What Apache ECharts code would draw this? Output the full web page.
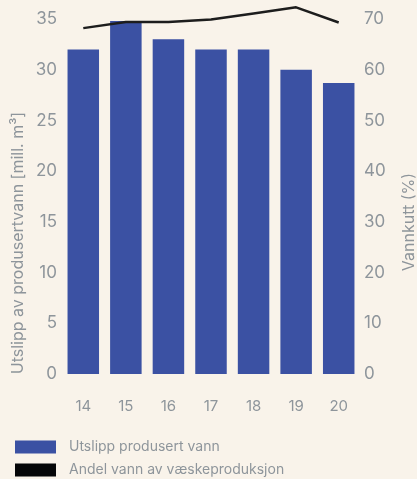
<!DOCTYPE html>
<html><head><meta charset="utf-8">
<script src="https://cdn.jsdelivr.net/npm/echarts@6/dist/echarts.min.js"></script>
<style>html,body{margin:0;padding:0;background:#f9f3ea}#c{width:417px;height:479px}</style>
</head><body><div id="c"></div>
<script>
const categories = ['14','15','16','17','18','19','20'];
const utslipp = [32, 34.8, 33, 32, 32, 30, 28.7];
const vannkutt = [68.2, 69.4, 69.4, 69.9, 71.1, 72.3, 69.3];
const leftTicks = [0,5,10,15,20,25,30,35];
const rightTicks = [0,10,20,30,40,50,60,70];
const gray = '#8e959b';
const legendText = {color: gray, fontSize: 14, fontFamily: 'Inter', padding: [0,0,0,8]};
const chart = echarts.init(document.getElementById('c'));
chart.setOption({
  backgroundColor: '#f9f3ea',
  animation: false,
  grid: {left: 62, right: 57, top: 19, bottom: 105},
  legend: [
    {left: 15, top: 440, padding: 0, itemWidth: 41, itemHeight: 13, textStyle: legendText,
     data: [{name: 'Utslipp produsert vann', icon: 'rect'}]},
    {left: 15, top: 463, padding: 0, itemWidth: 41, itemHeight: 13, textStyle: legendText,
     data: [{name: 'Andel vann av væskeproduksjon', icon: 'rect', itemStyle: {color: '#050608'}}]}
  ],
  xAxis: {
    type: 'category', data: categories,
    axisLine: {show: false}, axisTick: {show: false},
    axisLabel: {color: gray, fontSize: 15, margin: 25, fontFamily: 'Inter'}
  },
  yAxis: [
    {type: 'value', min: 0, max: 35, interval: 5, splitLine: {show: false},
     axisLabel: {color: gray, fontSize: 17, margin: 5, fontFamily: 'Inter'}},
    {type: 'value', min: 0, max: 70, interval: 10, position: 'right', splitLine: {show: false},
     axisLabel: {color: gray, fontSize: 17, margin: 4, fontFamily: 'Inter'}}
  ],
  graphic: [
    {type: 'text', x: 18, y: 243, rotation: Math.PI/2,
     style: {text: 'Utslipp av produsertvann [mill. m³]', fill: gray, fontSize: 16, fontFamily: 'Inter', align: 'center', verticalAlign: 'middle'}},
    {type: 'text', x: 409, y: 222, rotation: Math.PI/2,
     style: {text: 'Vannkutt (%)', fill: gray, fontSize: 16, fontFamily: 'Inter', align: 'center', verticalAlign: 'middle'}}
  ],
  series: [
    {name: 'Utslipp produsert vann', type: 'bar', data: utslipp, barWidth: '74%', itemStyle: {color: '#3b51a3'}},
    {name: 'Andel vann av væskeproduksjon', type: 'line', yAxisIndex: 1, data: vannkutt, symbol: 'none', clip: false,
     lineStyle: {color: '#1d1d1d', width: 2.5}, itemStyle: {color: '#1d1d1d'}}
  ]
});
</script></body></html>
